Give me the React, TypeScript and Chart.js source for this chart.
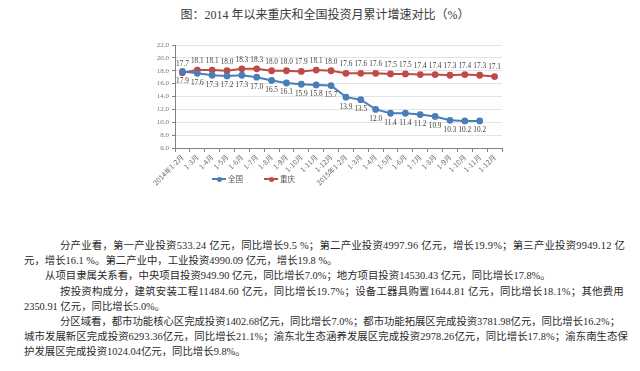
import React, { useEffect, useLayoutEffect, useRef } from 'react';
import { Chart, registerables } from 'chart.js';

Chart.register(...registerables);

const titleText = '图：2014 年以来重庆和全国投资月累计增速对比（%）';

const categories = [
  '2014年1-2月', '1-3月', '1-4月', '1-5月', '1-6月', '1-7月', '1-8月', '1-9月', '1-10月', '1-11月', '1-12月',
  '2015年1-2月', '1-3月', '1-4月', '1-5月', '1-6月', '1-7月', '1-8月', '1-9月', '1-10月', '1-11月', '1-12月',
];

const nationalValues: (number | null)[] = [
  17.9, 17.6, 17.3, 17.2, 17.3, 17.0, 16.5, 16.1, 15.9, 15.8, 15.7,
  13.9, 13.5, 12.0, 11.4, 11.4, 11.2, 10.9, 10.3, 10.2, 10.2, null,
];

const chongqingValues: number[] = [
  17.7, 18.1, 18.1, 18.0, 18.3, 18.3, 18.0, 18.0, 17.9, 18.1, 18.0,
  17.6, 17.6, 17.6, 17.5, 17.5, 17.4, 17.4, 17.3, 17.4, 17.3, 17.1,
];

const seriesNames = ['全国', '重庆'];

const yMin = 6;
const yMax = 22;
const yStep = 2;

const bodyLines = [
  '分产业看，第一产业投资533.24 亿元，同比增长9.5 %；第二产业投资4997.96 亿元，增长19.9%；第三产业投资9949.12 亿',
  '元，增长16.1 %。第二产业中，工业投资4990.09 亿元，增长19.8 %。',
  '从项目隶属关系看，中央项目投资949.90 亿元，同比增长7.0%；地方项目投资14530.43 亿元，同比增长17.8%。',
  '按投资构成分，建筑安装工程11484.60 亿元，同比增长19.7%；设备工器具购置1644.81 亿元，同比增长18.1%；其他费用',
  '2350.91 亿元，同比增长5.0%。',
  '分区域看，都市功能核心区完成投资1402.68亿元，同比增长7.0%；都市功能拓展区完成投资3781.98亿元，同比增长16.2%；',
  '城市发展新区完成投资6293.36亿元，同比增长21.1%；渝东北生态涵养发展区完成投资2978.26亿元，同比增长17.8%；渝东南生态保',
  '护发展区完成投资1024.04亿元，同比增长9.8%。',
];

// layout: [left, target right (0 = natural)]
const lineLayout: [number, number][] = [
  [60, 625],
  [24, 0],
  [45, 0],
  [60, 624],
  [24, 0],
  [60, 620],
  [24, 628],
  [24, 0],
];
const firstLineTop = 239;
const lineGap = 15.2;

const BLUE = '#4A7EBB';
const RED = '#BE4B48';

const dataLabelPlugin = {
  id: 'pointValueLabels',
  afterDatasetsDraw(chart: any) {
    const ctx = chart.ctx;
    chart.data.datasets.forEach((ds: any, i: number) => {
      const meta = chart.getDatasetMeta(i);
      const above = i === 1;
      meta.data.forEach((pt: any, j: number) => {
        const v = ds.data[j];
        if (v == null) return;
        ctx.save();
        ctx.font = '7.3px "Liberation Serif"';
        ctx.fillStyle = '#404040';
        ctx.textAlign = 'center';
        ctx.textBaseline = 'middle';
        ctx.fillText(Number(v).toFixed(1), pt.x, pt.y + (above ? -9 : 9.5));
        ctx.restore();
      });
    });
  },
};

function LineChart() {
  const ref = useRef<HTMLCanvasElement | null>(null);
  useEffect(() => {
    if (!ref.current) return;
    const chart = new Chart(ref.current, {
      type: 'line',
      data: {
        labels: categories,
        datasets: [
          {
            label: seriesNames[0],
            data: nationalValues,
            borderColor: BLUE,
            backgroundColor: BLUE,
            borderWidth: 2,
            pointRadius: 2.4,
            pointBackgroundColor: BLUE,
            pointBorderColor: BLUE,
            tension: 0,
            spanGaps: false,
          },
          {
            label: seriesNames[1],
            data: chongqingValues,
            borderColor: RED,
            backgroundColor: RED,
            borderWidth: 2,
            pointRadius: 2.4,
            pointBackgroundColor: RED,
            pointBorderColor: RED,
            tension: 0,
          },
        ],
      },
      options: {
        animation: false,
        responsive: false,
        layout: { padding: { left: 0, right: 18, top: 15, bottom: 0 } },
        plugins: {
          legend: { display: false },
          tooltip: { enabled: false },
        },
        scales: {
          x: {
            type: 'category',
            offset: true,
            afterFit: (s: any) => { s.height = 52; },
            grid: {
              offset: true,
              display: true,
              drawOnChartArea: false,
              drawTicks: true,
              tickLength: 4,
              color: '#808080',
            },
            border: { display: true, color: '#808080', width: 1 },
            ticks: {
              autoSkip: false,
              maxRotation: 45,
              minRotation: 45,
              padding: 1,
              color: '#6a6a6a',
              font: { size: 7, family: '"Noto Sans CJK SC", sans-serif' },
            },
          },
          y: {
            min: yMin,
            max: yMax,
            afterFit: (s: any) => { s.width = 45; },
            grid: {
              color: '#e3e3e3',
              drawTicks: true,
              tickLength: 3,
              tickColor: '#808080',
            },
            border: { display: true, color: '#808080', width: 1 },
            ticks: {
              stepSize: yStep,
              padding: 3,
              color: '#777777',
              font: { size: 7, family: '"Liberation Serif", serif' },
              callback: (v: any) => Number(v).toFixed(1),
            },
          },
        },
      },
      plugins: [dataLabelPlugin],
    } as any);
    return () => chart.destroy();
  }, []);
  return <canvas ref={ref} width={390} height={170} style={{ display: 'block' }} />;
}

function LegendItem({ left, color, name }: { left: number; color: string; name: string }) {
  return (
    <div style={{ position: 'absolute', left, top: 173, height: 12, display: 'flex', alignItems: 'center' }}>
      <div style={{ position: 'relative', width: 14, height: 12 }}>
        <div style={{ position: 'absolute', left: 0, top: 5, width: 14, height: 2, background: color }} />
        <div style={{ position: 'absolute', left: 4.5, top: 3.5, width: 5, height: 5, borderRadius: '50%', background: color }} />
      </div>
      <span style={{ marginLeft: 2, fontSize: 7.5, color: '#555', fontFamily: '"Noto Sans CJK SC", sans-serif', lineHeight: '12px' }}>{name}</span>
    </div>
  );
}

export default function App() {
  const lineRefs = useRef<(HTMLDivElement | null)[]>([]);
  useLayoutEffect(() => {
    lineRefs.current.forEach((el, i) => {
      if (!el) return;
      const [left, right] = lineLayout[i];
      if (!right) return;
      el.style.letterSpacing = '0px';
      const w = el.getBoundingClientRect().width;
      const n = Array.from(bodyLines[i]).length;
      const ls = (right - left - w) / n;
      el.style.letterSpacing = ls + 'px';
    });
  }, []);
  return (
    <div style={{ position: 'absolute', left: 0, top: 0, width: 640, height: 371, background: '#fff', overflow: 'hidden' }}>
      <div
        style={{
          position: 'absolute', left: 0, top: 7, width: 650, textAlign: 'center',
          fontSize: 12, lineHeight: '16px', color: '#3a3a3a',
          fontFamily: '"Liberation Serif", "Noto Sans CJK SC", serif',
        }}
      >
        {titleText}
      </div>
      <div style={{ position: 'absolute', left: 130, top: 30, width: 390, height: 170 }}>
        <LineChart />
      </div>
      <LegendItem left={212} color={BLUE} name={seriesNames[0]} />
      <LegendItem left={264} color={RED} name={seriesNames[1]} />
      {bodyLines.map((t, i) => (
        <div
          key={i}
          ref={(el) => { lineRefs.current[i] = el; }}
          style={{
            position: 'absolute',
            left: lineLayout[i][0],
            top: firstLineTop + i * lineGap,
            whiteSpace: 'nowrap',
            fontSize: 10.4,
            lineHeight: '14px',
            color: '#2a2a2a',
            fontFamily: '"Liberation Serif", "Noto Sans CJK SC", serif',
          }}
        >
          {t}
        </div>
      ))}
    </div>
  );
}
